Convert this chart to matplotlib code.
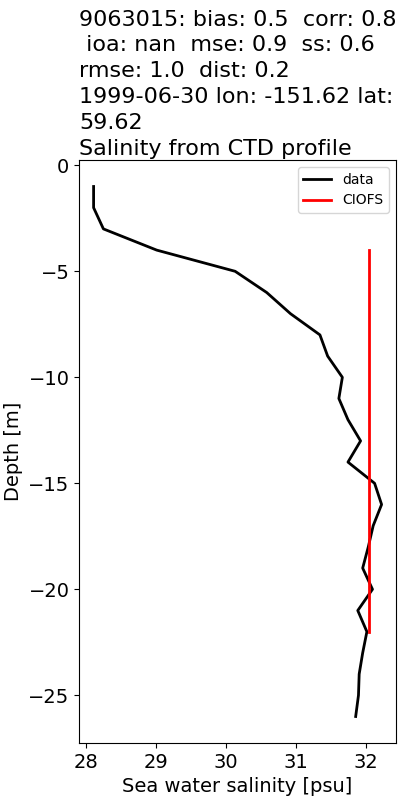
import numpy as np
import matplotlib
matplotlib.use('Agg')
import matplotlib.pyplot as plt

# CTD profile (data) and model (CIOFS)
depth = [-1, -2, -3, -4, -5, -6, -7, -8, -9, -10, -11, -12, -13,
         -14, -15, -16, -17, -18, -19, -20, -21, -22, -23, -24, -25, -26]
salt = [28.11, 28.11, 28.25, 29.01, 30.13, 30.58, 30.92, 31.34, 31.45,
        31.66, 31.61, 31.74, 31.92, 31.74, 32.12, 32.22, 32.10, 32.03,
        31.95, 32.09, 31.88, 32.01, 31.95, 31.90, 31.89, 31.85]

model_depth = [-4, -8, -12, -16, -20, -22]
model_salt = [32.04, 32.04, 32.04, 32.04, 32.04, 32.04]

title = ("9063015: bias: 0.5  corr: 0.8\n ioa: nan  mse: 0.9  ss: 0.6\n"
         "rmse: 1.0  dist: 0.2\n1999-06-30 lon: -151.62 lat:\n59.62\n"
         "Salinity from CTD profile")

fig = plt.figure(figsize=(4, 8), dpi=100)
ax = fig.add_axes([0.198, 0.07125, 0.792, 0.72875])
ax.plot(salt, depth, color='k', lw=2, label='data')
ax.plot(model_salt, model_depth, color='r', lw=2, label='CIOFS')
ax.set_title(title, loc='left', fontsize=16, pad=3.5, linespacing=1.37)
ax.set_xlabel('Sea water salinity [psu]', fontsize=14)
ax.set_ylabel('Depth [m]', fontsize=14)
ax.tick_params(labelsize=14)
ax.legend(loc='upper right', fontsize=10)

fig.savefig('out.png', dpi=100)
